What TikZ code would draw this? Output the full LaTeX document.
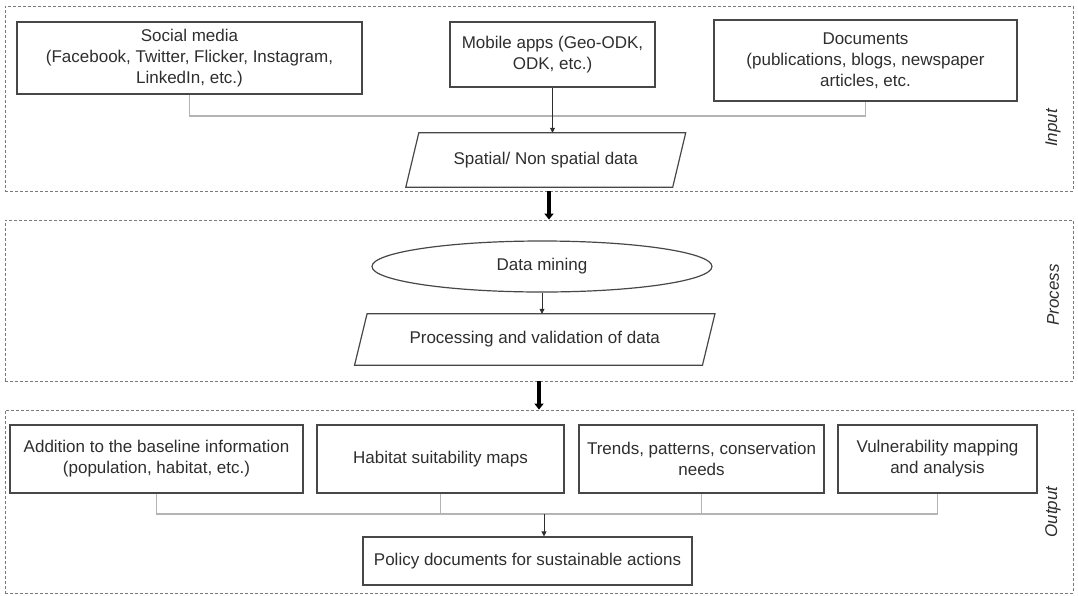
\documentclass[tikz,border=0pt]{standalone}
\usepackage{fontspec}
\setmainfont{Liberation Sans}
\usetikzlibrary{arrows.meta,shapes.geometric,calc}
\definecolor{txt}{HTML}{2E2E2E}
\definecolor{boxc}{HTML}{474747}
\definecolor{brk}{HTML}{B4B4B4}
\definecolor{dsh}{HTML}{7A7A7A}
\tikzset{
  box/.style={draw=boxc, line width=1.2pt, text=txt, align=center, inner sep=0pt,
    font=\fontsize{17}{21}\selectfont},
  plain/.style={draw=none, text=txt, align=center, inner sep=0pt,
    font=\fontsize{17}{21}\selectfont},
  group/.style={draw=dsh, line width=0.8pt, dash pattern=on 3pt off 2pt, inner sep=0pt},
  bracket/.style={draw=brk, line width=1.4pt},
  smallarr/.style={draw=txt, line width=0.7pt, -{Triangle[width=5pt,length=5pt]}},
  bigarr/.style={draw=black, line width=4pt, -{Triangle[width=9pt,length=6pt]}},
  sidelabel/.style={text=txt, rotate=90, font=\fontsize{17}{21}\selectfont\itshape},
}
\begin{document}
\begin{tikzpicture}[x=1pt,y=-1pt]
\useasboundingbox (0,0) rectangle (1078,595);

% group containers
\node[group, minimum width=1068, minimum height=185] (ingrp) at (539,98.5) {};
\node[group, minimum width=1068, minimum height=161] (prgrp) at (539,300.5) {};
\node[group, minimum width=1068, minimum height=183] (outgrp) at (539,501.5) {};

\node[sidelabel] (inlbl) at (1053,128) {Input};
\node[sidelabel] (prlbl) at (1053,295) {Process};
\node[sidelabel] (outlbl) at (1053,512) {Output};

% input
\node[box, minimum width=345, minimum height=72] (soc) at (189.5,58)
  {Social media\\(Facebook, Twitter, Flicker, Instagram,\\LinkedIn, etc.)};
\node[box, minimum width=205, minimum height=65] (mob) at (552.5,54.5)
  {Mobile apps (Geo-ODK,\\ODK, etc.)};
\node[box, minimum width=303, minimum height=81] (doc) at (865.5,60.5)
  {Documents\\(publications, blogs, newspaper\\articles, etc.};
\node[plain, minimum width=266.5, minimum height=54] (sp) at (545.75,160)
  {Spatial/ Non spatial data};
\draw[draw=boxc, line width=1.2pt]
  ([xshift=6.5]sp.north west) -- ([xshift=6.5]sp.north east)
  -- ([xshift=-6.5]sp.south east) -- ([xshift=-6.5]sp.south west) -- cycle;

\coordinate (tj) at (552.5,116);
\draw[bracket] (soc.south) |- (tj) -| (doc.south);
\draw[smallarr] (mob.south) -- (mob.south |- sp.north);

% process
\node[ellipse, draw=boxc, line width=1.2pt, text=txt, inner sep=0pt,
  minimum width=340, minimum height=51, font=\fontsize{17}{21}\selectfont]
  (dm) at (542,266.5) {Data mining};
\node[plain, minimum width=347.5, minimum height=51] (pv) at (534.75,339.5)
  {Processing and validation of data};
\draw[draw=boxc, line width=1.2pt]
  ([xshift=6.25]pv.north west) -- ([xshift=6.25]pv.north east)
  -- ([xshift=-6.25]pv.south east) -- ([xshift=-6.25]pv.south west) -- cycle;
\draw[smallarr] (dm.south) -- (dm.south |- pv.north);

% output
\node[box, minimum width=293, minimum height=68] (add) at (156.5,459)
  {Addition to the baseline information\\(population, habitat, etc.)};
\node[box, minimum width=247, minimum height=68] (hab) at (440.5,459)
  {Habitat suitability maps};
\node[box, minimum width=245, minimum height=68] (tre) at (701.5,459)
  {Trends, patterns, conservation\\needs};
\node[box, minimum width=199, minimum height=68] (vul) at (937.5,459)
  {Vulnerability mapping\\and analysis};
\node[box, minimum width=329, minimum height=48] (pol) at (527.5,561)
  {Policy documents for sustainable actions};

\coordinate (bj) at (544,514);
\draw[bracket] (add.south) |- (bj) -| (vul.south);
\draw[bracket] (hab.south) -- (hab.south |- bj);
\draw[bracket] (tre.south) -- (tre.south |- bj);
\draw[smallarr] (bj) -- (bj |- pol.north);

% thick arrows between stages
\draw[bigarr] ([xshift=10]ingrp.south) -- ([xshift=10]prgrp.north);
\draw[bigarr] (prgrp.south) -- (outgrp.north);
\end{tikzpicture}
\end{document}
